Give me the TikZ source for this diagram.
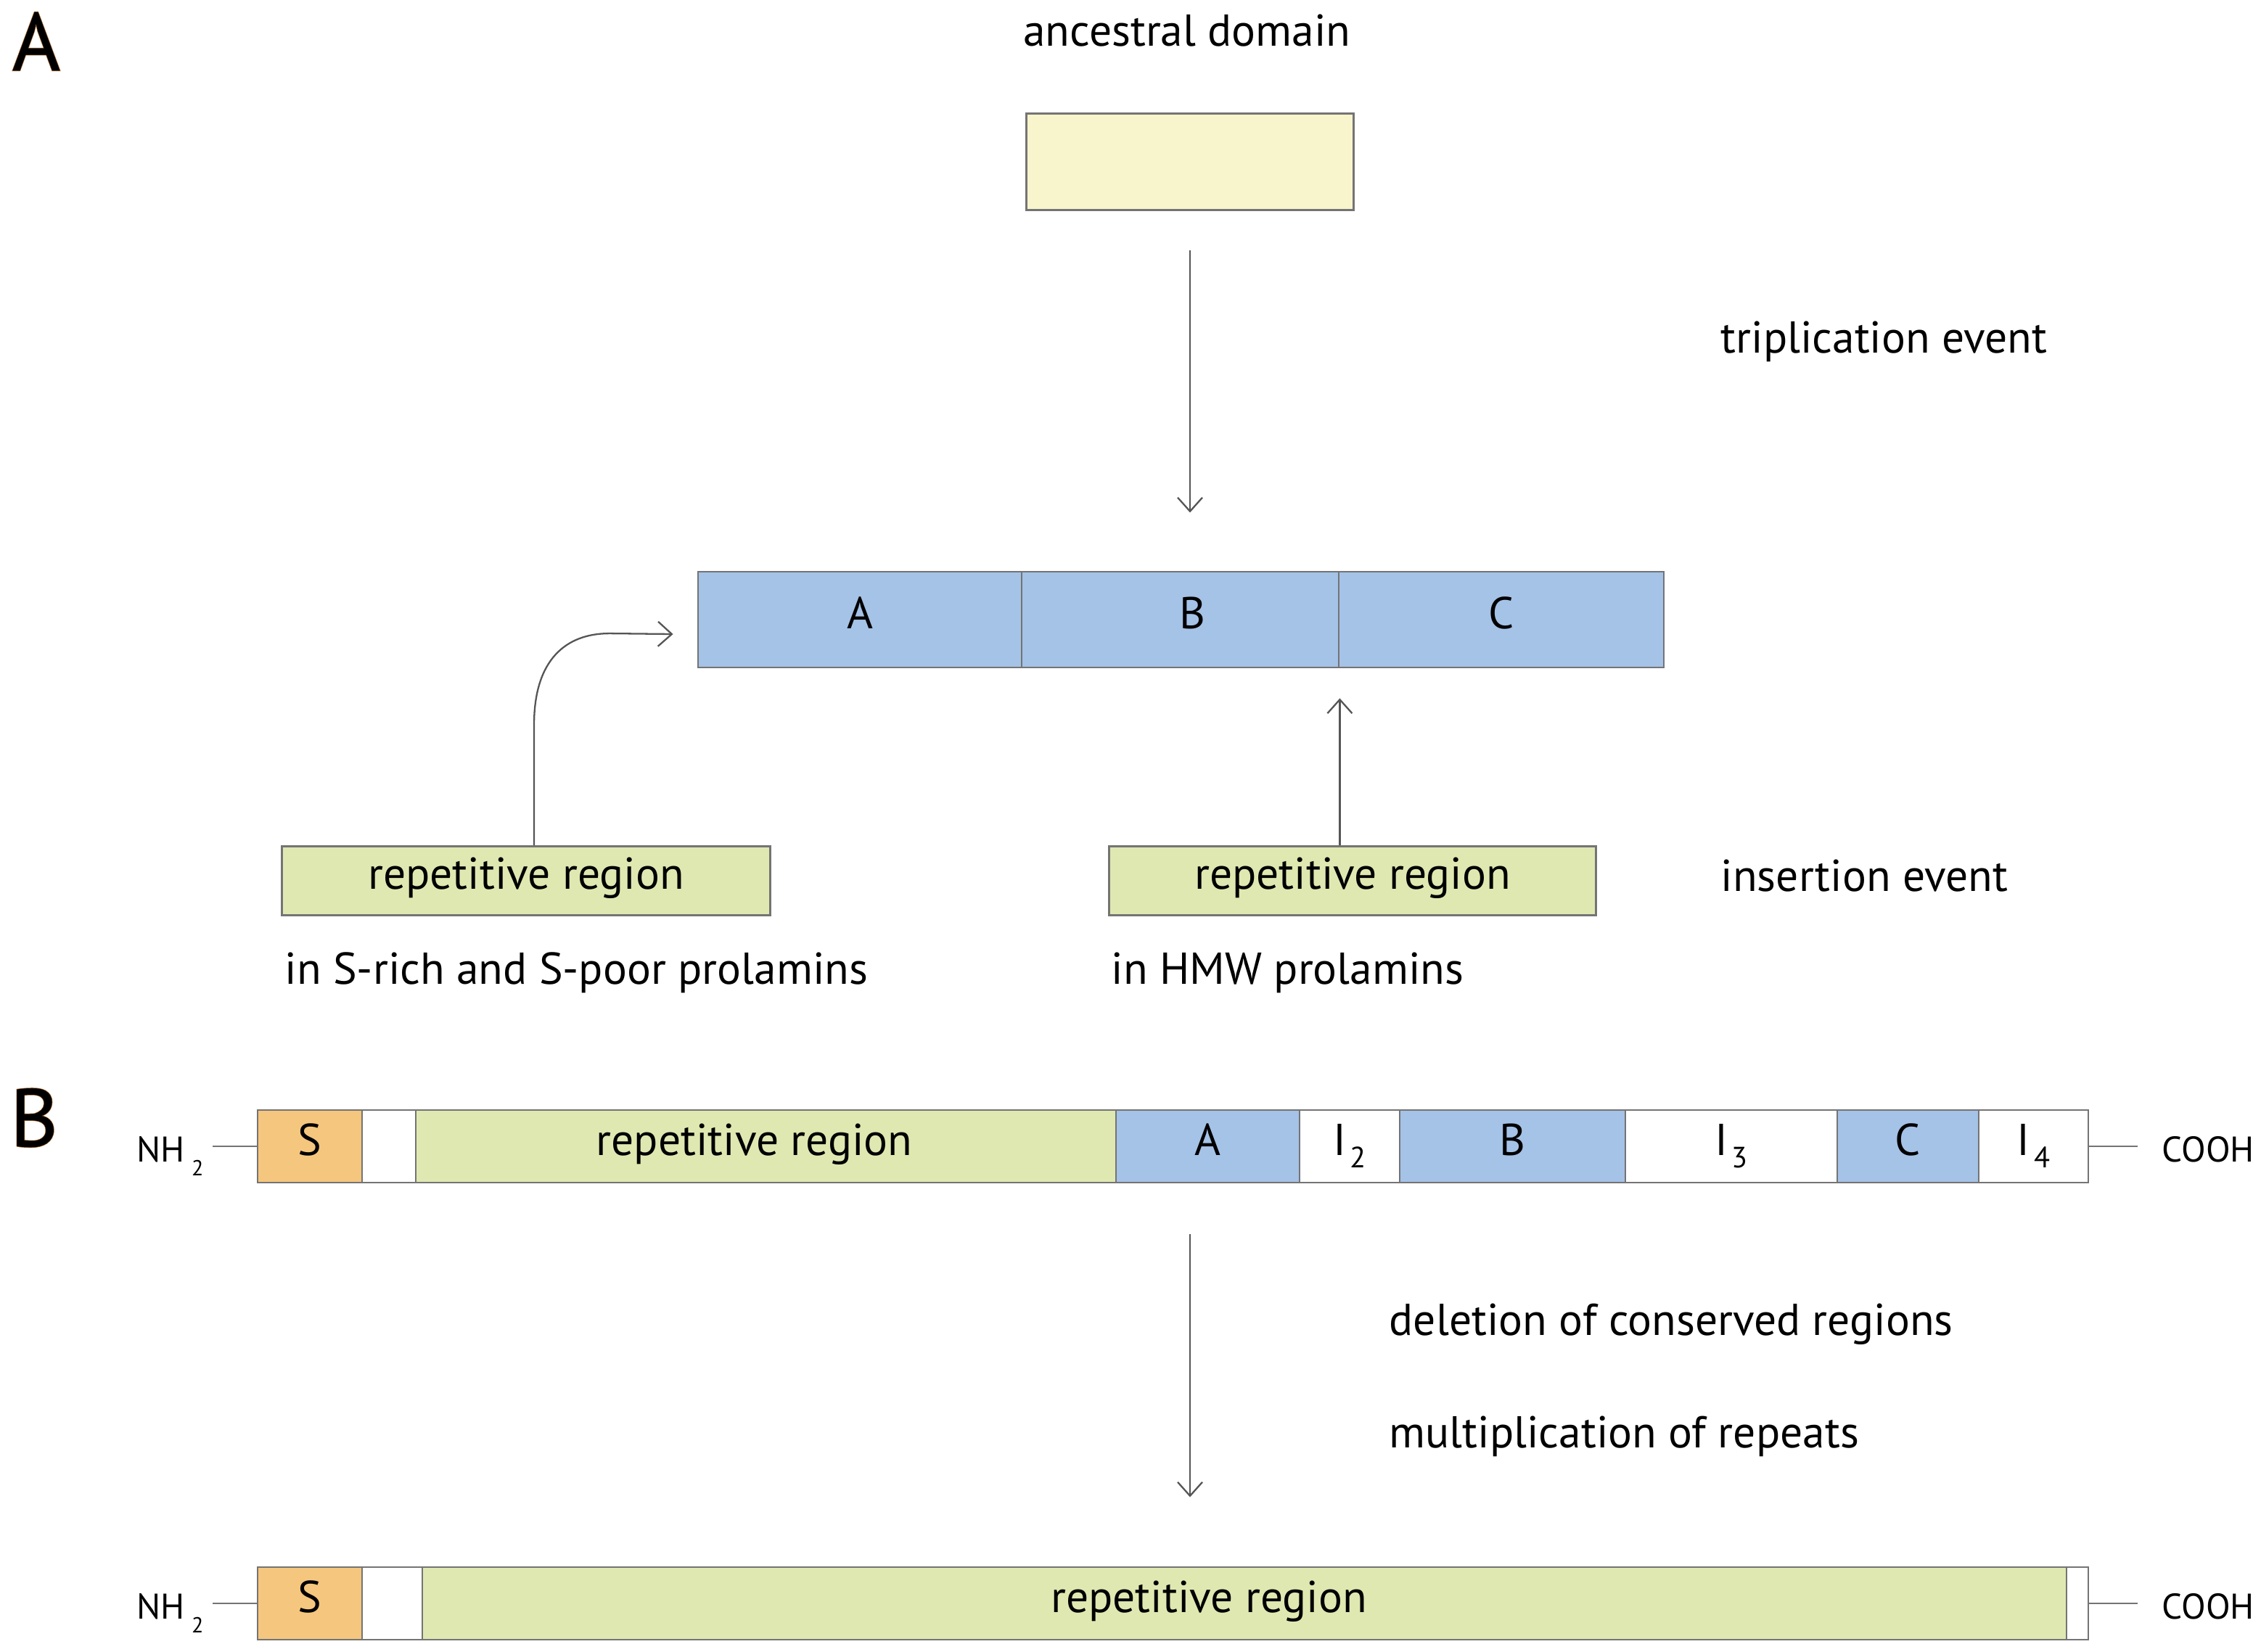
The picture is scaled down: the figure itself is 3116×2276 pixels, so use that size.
\documentclass[tikz,border=0pt]{standalone}
\usepackage{fontspec}
\setmainfont{PT Sans}
\usetikzlibrary{arrows.meta}

\definecolor{cream}{HTML}{F8F4CC}
\definecolor{domblue}{HTML}{A5C2E7}
\definecolor{repgreen}{HTML}{DFE8B1}
\definecolor{sorange}{HTML}{F5C67E}
\definecolor{edge}{HTML}{747474}
\definecolor{arrowgray}{HTML}{555555}
\definecolor{panelbrown}{HTML}{A0622A}

\newcommand{\isub}[1]{\hspace{1.6pt}\raisebox{-4.8pt}{\fontsize{11.5}{11.5}\selectfont #1}}
\newcommand{\nsub}[1]{\hspace{2.6pt}\raisebox{-5.5pt}{\fontsize{8.5}{8.5}\selectfont #1}}

\begin{document}
\begin{tikzpicture}[x = 0.01cm, y = -0.01cm,
 font = \fontsize{17.5}{20}\selectfont,
 box/.style = {draw = edge, line width = 0.8pt, inner sep = 0pt},
 boxtext/.style = {inner sep = 0pt, text height = 1.4ex, text depth = 0pt},
 txt/.style = {inner sep = 0pt, anchor = base west},
 panel/.style = {inner sep = 0pt, anchor = base, font = \fontsize{32}{32}\selectfont},
 arr/.style = {draw = arrowgray, line width = 0.65pt, -{Straight Barb[length = 0.19cm, width = 0.34cm]}},
 stem/.style = {draw = edge, line width = 0.8pt},
 term/.style = {inner sep = 0pt, anchor = base west, font = \fontsize{14}{16}\selectfont}]
\useasboundingbox (0, 0) rectangle (3116, 2276);

% A
\node[panel, text = panelbrown] (panA) at (50, 97) {\addfontfeature{FakeBold=2}A};
\node[panel] at (panA.base) {\addfontfeature{FakeBold=0.6}A};
\node[txt, anchor = base] (anc) at (1636, 64) {ancestral domain};
\node[box, fill = cream, minimum width = 4.5cm, minimum height = 1.33cm] (dom) at (1640, 223) {};

\foreach \l/\r/\t/\o [count = \i] in {962/1408/A/0, 1408/1845/B/17, 1845/2293/C/0} {
 \node[box, fill = domblue, minimum width = {(\r-\l)*0.01cm}, minimum height = 1.32cm] (t\i) at ({(\l+\r)/2}, 854) {};
 \node[boxtext, xshift = \o*0.01cm] at (t\i) {\t};
}

\draw[arr, shorten <= 0.54cm, shorten >= 0.80cm] (dom.south) -- (dom.south |- t2.north);
\node[txt] (trip) at (2371, 486) {triplication event};

\node[box, fill = repgreen, minimum width = 6.73cm, minimum height = 0.95cm] (lrep) at (725, 1214) {};
\node[boxtext, text height = 1.25ex] at (lrep) {repetitive region};
\node[box, fill = repgreen, minimum width = 6.70cm, minimum height = 0.95cm] (rrep) at (1864, 1214) {};
\node[boxtext, text height = 1.25ex] at (rrep) {repetitive region};
\node[txt] (lrepl) at (392, 1356) {in S-rich and S-poor prolamins};
\node[txt] (rrepl) at (1531, 1356) {in HMW prolamins};
\node[txt] (ins) at (2371, 1228) {insertion event};

\draw[arr] ([xshift = 0.11cm]lrep.north) -- ++(0, -166)
 .. controls +(0, -90) and +(-60, 0) .. ++(104, -126)
 -- ([xshift = -0.33cm, yshift = -0.2cm]t1.west);
\draw[arr, shorten >= 0.41cm] (rrep.north -| t2.south east) -- (t2.south east);

% B
\node[panel, text = panelbrown] (panB) at (47, 1580) {\addfontfeature{FakeBold=2}B};
\node[panel] at (panB.base) {\addfontfeature{FakeBold=0.6}B};
\foreach \l/\r/\c/\t/\o [count = \i] in {355/499/sorange/S/0, 499/573/white/{}/0, 573/1538/repgreen/repetitive region/-16,
 1538/1791/domblue/A/0, 1791/1929/white/{I\isub{2}}/0, 1929/2240/domblue/B/0, 2240/2532/white/{I\isub{3}}/0,
 2532/2727/domblue/C/0, 2727/2878/white/{I\isub{4}}/0} {
 \node[box, fill = \c, minimum width = {(\r-\l)*0.01cm}, minimum height = 1.0cm] (b\i) at ({(\l+\r)/2}, 1580) {};
 \node[boxtext, xshift = \o*0.01cm] at (b\i) {\t};
}

\foreach \l/\r/\c/\t/\o [count = \i] in {355/499/sorange/S/0, 499/582/white/{}/0, 582/2848/repgreen/repetitive region/-49,
 2848/2878/white/{}/0} {
 \node[box, fill = \c, minimum width = {(\r-\l)*0.01cm}, minimum height = 1.0cm] (c\i) at ({(\l+\r)/2}, 2210) {};
 \node[boxtext, xshift = \o*0.01cm] at (c\i) {\t};
}

\node[term] (nh1) at (188, 1601) {NH\nsub{2}};
\node[term] (co1) at (2979, 1601) {COOH};
\node[term] (nh2) at (188, 2231) {NH\nsub{2}};
\node[term] (co2) at (2979, 2231) {COOH};
\draw[stem, shorten <= 0.12cm] (nh1.east |- b1.west) -- (b1.west);
\draw[stem, shorten >= 0.33cm] (b9.east) -- (b9.east -| co1.west);
\draw[stem, shorten <= 0.12cm] (nh2.east |- c1.west) -- (c1.west);
\draw[stem, shorten >= 0.33cm] (c4.east) -- (c4.east -| co2.west);

\draw[arr, shorten <= 0.70cm, shorten >= 0.95cm] (b1.south -| dom.south) -- (c3.north -| dom.south);
\node[txt] (del) at (1914, 1840) {deletion of conserved regions};
\node[txt] (mult) at (1914, 1995) {multiplication of repeats};
\end{tikzpicture}
\end{document}
